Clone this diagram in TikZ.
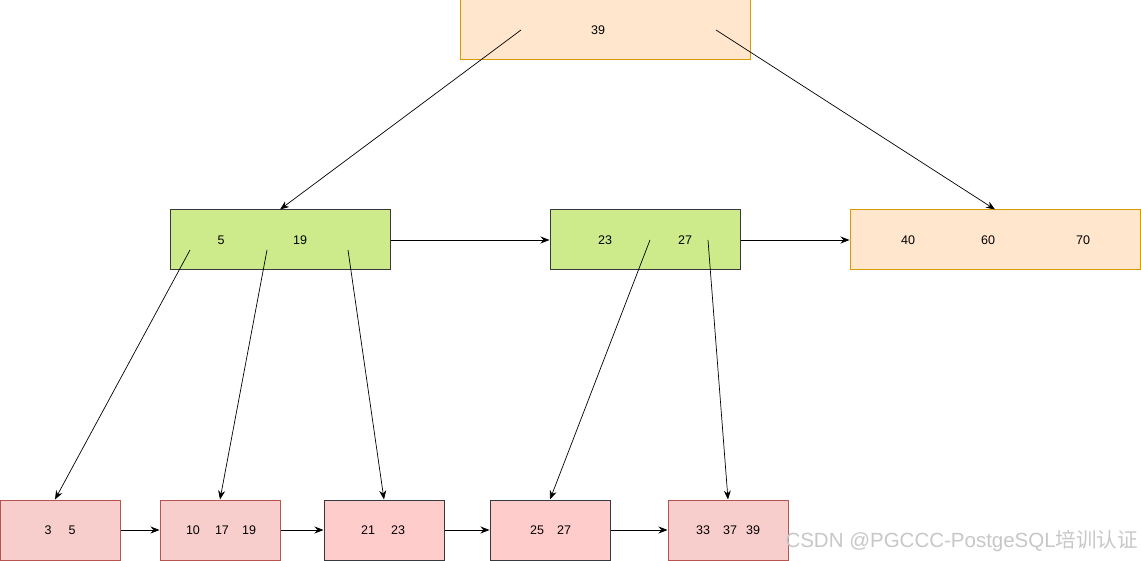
\documentclass[tikz,border=0pt]{standalone}
\usepackage{fontspec}
\setmainfont{Liberation Sans}
\newfontfamily\cjkfont{Noto Sans CJK SC}
\usetikzlibrary{arrows.meta}
\definecolor{rootfill}{HTML}{FFE6CC}
\definecolor{rootdraw}{HTML}{D79B00}
\definecolor{innerfill}{HTML}{CDEB8B}
\definecolor{darkdraw}{HTML}{36393D}
\definecolor{leaffill}{HTML}{F8CECC}
\definecolor{leafdraw}{HTML}{B85450}
\definecolor{pinkfill}{HTML}{FFCCCC}

\tikzset{
  page/.style={rectangle, line width=1pt, minimum height=60pt, inner sep=0pt},
  key/.style={inner sep=0pt, font=\fontsize{12.5}{14}\selectfont},
  ptr/.style={line width=0.7pt, -{Stealth[length=9pt, width=7pt]}}
}

\begin{document}
\begin{tikzpicture}[x=1pt, y=-1pt]
    \useasboundingbox (0,0) rectangle (1141,561);

    % Racine
    \node[page, fill=rootfill, draw=rootdraw, minimum width=290pt] (root) at (605,30) {};
    \node[key] (k39) at (598,30) {39};
    \coordinate (r1) at (521,30);
    \coordinate (r2) at (716,30);

    % Noeuds internes
    \node[page, fill=innerfill, draw=darkdraw, minimum width=220pt] (inA) at (280,240) {};
    \node[key] at (221,240) {5};
    \node[key] at (300,240) {19};
    \coordinate (a1) at (190,250);
    \coordinate (a2) at (267,250);
    \coordinate (a3) at (348,250);

    \node[page, fill=innerfill, draw=darkdraw, minimum width=190pt] (inB) at (645,240) {};
    \node[key] at (605,240) {23};
    \node[key] at (685,240) {27};
    \coordinate (b1) at (650,240);
    \coordinate (b2) at (708,240);

    \node[page, fill=rootfill, draw=rootdraw, minimum width=290pt] (inC) at (995,240) {};
    \node[key] at (908,240) {40};
    \node[key] at (988,240) {60};
    \node[key] at (1083,240) {70};

    % Feuilles
    \node[page, fill=leaffill, draw=leafdraw, minimum width=120pt] (lf1) at (60,530) {};
    \node[key] at (48,530) {3};
    \node[key] at (72,530) {5};

    \node[page, fill=leaffill, draw=leafdraw, minimum width=120pt] (lf2) at (220,530) {};
    \node[key] at (193,530) {10};
    \node[key] at (222,530) {17};
    \node[key] at (249,530) {19};

    \node[page, fill=pinkfill, draw=darkdraw, minimum width=120pt] (lf3) at (384,530) {};
    \node[key] at (368,530) {21};
    \node[key] at (398,530) {23};

    \node[page, fill=pinkfill, draw=darkdraw, minimum width=120pt] (lf4) at (550,530) {};
    \node[key] at (537,530) {25};
    \node[key] at (564,530) {27};

    \node[page, fill=leaffill, draw=leafdraw, minimum width=120pt] (lf5) at (728,530) {};
    \node[key] at (703,530) {33};
    \node[key] at (730,530) {37};
    \node[key] at (753,530) {39};

    % Pointeurs
    \draw[ptr] (r1) -- (inA.north);
    \draw[ptr] (r2) -- (inC.north);
    \draw[ptr] (a1) -- ([xshift=-5pt]lf1.north);
    \draw[ptr] (a2) -- (lf2.north);
    \draw[ptr] (a3) -- (lf3.north);
    \draw[ptr] (b1) -- (lf4.north);
    \draw[ptr] (b2) -- (lf5.north);

    % Liens entre voisins
    \draw[ptr] (inA) -- (inB);
    \draw[ptr] (inB) -- (inC);
    \draw[ptr] (lf1) -- (lf2);
    \draw[ptr] (lf2) -- (lf3);
    \draw[ptr] (lf3) -- (lf4);
    \draw[ptr] (lf4) -- (lf5);

    % Filigrane
    \node[anchor=east, text=black!22, inner sep=0pt, font=\fontsize{20.5}{22}\selectfont] (wm) at (1138,541) {CSDN @PGCCC-PostgeSQL{\cjkfont 培训认证}};
\end{tikzpicture}
\end{document}
